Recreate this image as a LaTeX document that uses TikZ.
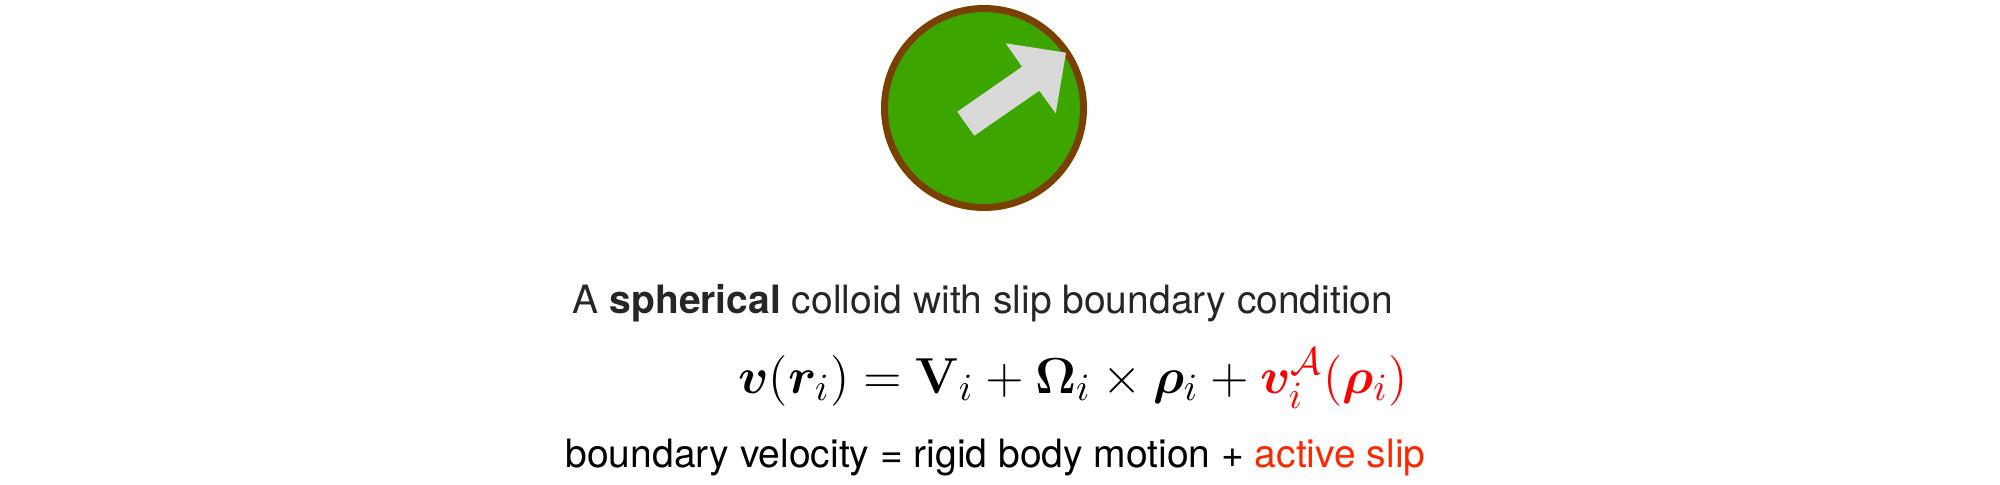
\documentclass[tikz,border=0pt]{standalone}
\usepackage[no-math]{fontspec}
\usepackage{amsmath}
\usepackage{bm}
\usepackage{xcolor}
\usepackage{tikz}
\setmainfont{TeX Gyre Heros}
\definecolor{ColloidGreen}{HTML}{3DA500}
\definecolor{ColloidRim}{HTML}{7A4000}
\definecolor{ColloidArrow}{HTML}{D9D9D9}
\definecolor{CaptionGrey}{HTML}{262626}
\definecolor{SlipRed}{HTML}{FF2600}
\definecolor{EqRed}{HTML}{FF0000}

\begin{document}
\begin{tikzpicture}[x=1cm,y=1cm]
        \useasboundingbox (0,0) rectangle (20,4.84);
        \node[circle, fill=ColloidGreen, draw=ColloidRim, line width=0.07cm,
              minimum size=1.99cm, inner sep=0pt] (colloid) at (9.84,3.76) {};
        \fill[ColloidArrow] (9.573,3.723) -- (9.743,3.483) -- (10.393,3.933)
             -- (10.557,3.707) -- (10.66,4.313) -- (10.057,4.407)
             -- (10.22,4.173) -- cycle;
        \node[CaptionGrey, anchor=base, inner sep=0pt, font=\fontsize{11.1pt}{13pt}\selectfont] (title) at (9.83,1.71)
             {A \textbf{spherical} colloid with slip boundary condition};
        \node[anchor=base, inner sep=0pt, font=\fontsize{15.2pt}{17pt}\selectfont] (equation) at (10.73,0.91)
             {$\bm{v}(\bm{r}_i) = \mathbf{V}_i + \bm{\Omega}_i \times \bm{\rho}_i
              + \textcolor{EqRed}{\bm{v}_i^{\mathcal{A}}(\bm{\rho}_i)}$};
        \node[black, anchor=base, inner sep=0pt, font=\fontsize{11.1pt}{13pt}\selectfont] (summary) at (9.955,0.17)
             {boundary velocity = rigid body motion + \textcolor{SlipRed}{active slip}};
      \end{tikzpicture}
\end{document}
